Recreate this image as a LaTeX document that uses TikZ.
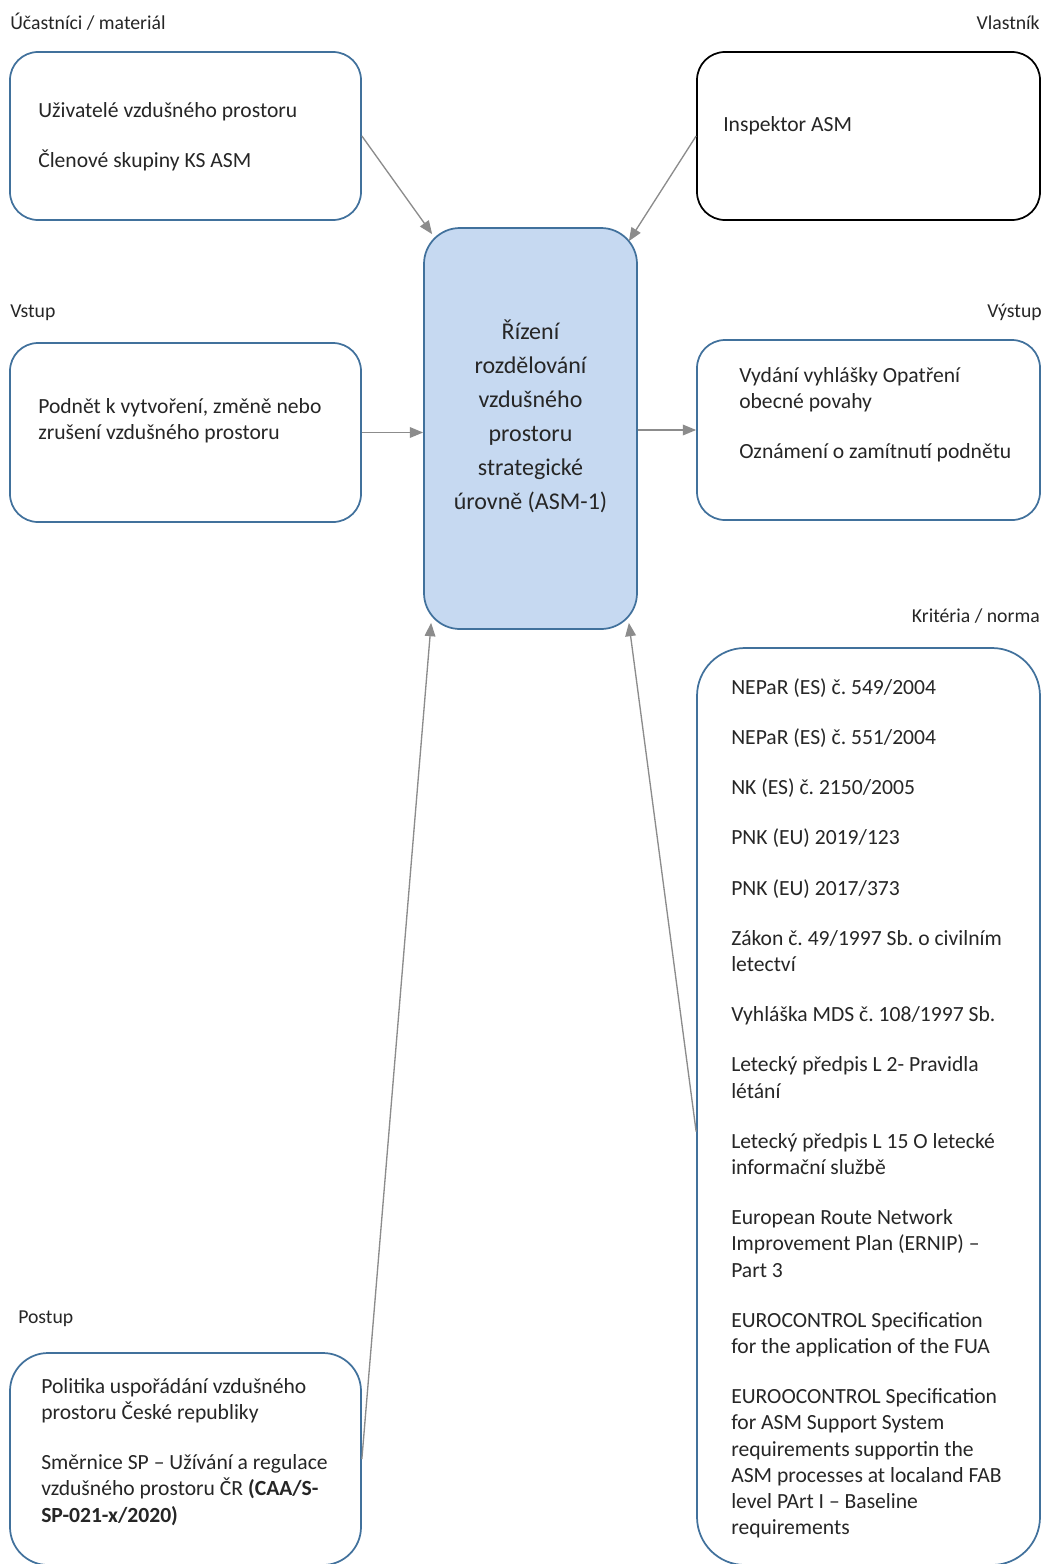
\documentclass[tikz,border=0pt]{standalone}
\usepackage{fontspec}
\setmainfont{Carlito}
\usetikzlibrary{arrows.meta,calc}
\definecolor{bordblue}{HTML}{41719C}
\definecolor{fillblue}{HTML}{C6D9F1}
\definecolor{arrgray}{HTML}{8C8C8C}
\definecolor{txtc}{HTML}{262626}
\frenchspacing
\newcommand\pxl[1]{#1*0.75pt}
\newcommand\bodyfont{\fontsize{16.2pt}{19.65pt}\selectfont}
\newcommand\headfont{\fontsize{14.8pt}{16pt}\selectfont}
\newcommand\mainfont{\fontsize{18pt}{25.5pt}\selectfont}
\newcommand\fst{\rule{0pt}{15pt}}
\newcommand\pg{\\[18pt]}
\begin{document}
\begin{tikzpicture}[x=0.75pt,y=-0.75pt,
  box/.style={draw=bordblue, line width=1.3pt, rounded corners=\pxl{28}, inner sep=0pt, fill=white},
  txt/.style={anchor=north west, inner sep=0pt, align=left, font=\bodyfont, text=txtc},
  head/.style={inner sep=0pt, font=\headfont, text=txtc},
  conn/.style={draw=arrgray, line width=1pt, -{Triangle[length=10pt,width=8pt]}}]
\clip (0,0) rectangle (1043,1564);
\fill[white] (0,0) rectangle (1043,1564);

% headers
\node[head, anchor=base west] (hA) at (10,29) {Účastníci / materiál};
\node[head, anchor=base east] (hB) at (1040,29) {Vlastník};
\node[head, anchor=base west] (hC) at (10,317) {Vstup};
\node[head, anchor=base east] (hD) at (1042,317) {Výstup};
\node[head, anchor=base east] (hE) at (1040,622) {Kritéria / norma};
\node[head, anchor=base west] (hF) at (18,1323) {Postup};

% boxes
\node[box, minimum width=\pxl{351}, minimum height=\pxl{168}] (A) at (185.5,136) {};
\node[box, draw=black, minimum width=\pxl{343}, minimum height=\pxl{168}] (B) at (868.5,136) {};
\node[box, minimum width=\pxl{351}, minimum height=\pxl{179}] (C) at (185.5,432.5) {};
\node[box, minimum width=\pxl{343}, minimum height=\pxl{180}] (D) at (868.5,430) {};
\node[box, fill=fillblue, rounded corners=\pxl{36}, minimum width=\pxl{213}, minimum height=\pxl{401}] (M) at (530.5,428.5) {};
\node[box, rounded corners=\pxl{48}, minimum width=\pxl{343}, minimum height=\pxl{917}] (E) at (868.5,1106.5) {};
\node[box, rounded corners=\pxl{38}, minimum width=\pxl{351}, minimum height=\pxl{212}] (F) at (185.5,1459) {};

% texts
\node[txt] (tA) at (38,97) {\fst Uživatelé vzdušného prostoru\pg Členové skupiny KS ASM};
\node[txt] (tB) at (723,111) {\fst Inspektor ASM};
\node[txt] (tC) at (38,393) {\fst Podnět k vytvoření, změně nebo\\zrušení vzdušného prostoru};
\node[txt] (tD) at (739,362) {\fst Vydání vyhlášky Opatření\\obecné povahy\pg Oznámení o zamítnutí podnětu};
\node[txt] (tE) at (731,674) {\fst NEPaR (ES) č. 549/2004\pg
NEPaR (ES) č. 551/2004\pg
NK (ES) č. 2150/2005\pg
PNK (EU) 2019/123\pg
PNK (EU) 2017/373\pg
Zákon č. 49/1997 Sb. o civilním\\letectví\pg
Vyhláška MDS č. 108/1997 Sb.\pg
Letecký předpis L 2- Pravidla\\létání\pg
Letecký předpis L 15 O letecké\\informační službě\pg
European Route Network\\Improvement Plan (ERNIP) –\\Part 3\pg
EUROCONTROL Specification\\for the application of the FUA\pg
EUROOCONTROL Specification\\for ASM Support System\\requirements supportin the\\ASM processes at localand FAB\\level PArt I – Baseline\\requirements};
\node[txt] (tF) at (41,1373) {\fst Politika uspořádání vzdušného\\prostoru České republiky\pg Směrnice SP – Užívání a regulace\\vzdušného prostoru ČR \textbf{(CAA/S-}\\\textbf{SP-021-x/2020)}};
\node[inner sep=0pt, align=center, font=\mainfont, text=txtc] (tM) at ($(M.center)+(0,-12)$) {Řízení\\rozdělování\\vzdušného\\prostoru\\strategické\\úrovně (ASM-1)};

% connectors
\draw[conn] (A.east) -- ($(M.north west)+(9,7)$);
\draw[conn] (B.west) -- ($(M.north east)+(-9,14)$);
\draw[conn] (C.east) -- (M.west |- C.east);
\draw[conn] (M.east |- D.west) -- (D.west);
\draw[conn] (F.east) -- ($(M.south west)+(8,-7)$);
\draw[conn] ($(E.west)+(0,25)$) -- ($(M.south east)+(-9,-7)$);
\end{tikzpicture}
\end{document}
